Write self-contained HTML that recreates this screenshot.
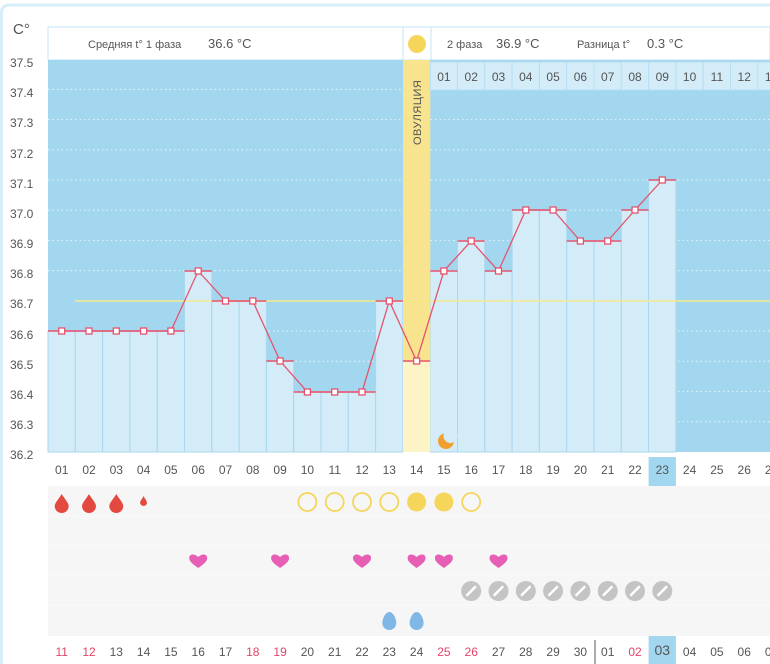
<!DOCTYPE html>
<html><head><meta charset="utf-8"><style>
html,body{margin:0;padding:0;background:#fff;width:770px;height:664px;overflow:hidden;}
svg{display:block;font-family:"Liberation Sans","DejaVu Sans",sans-serif;}
</style></head><body>
<svg width="770" height="664" viewBox="0 0 770 664" xmlns="http://www.w3.org/2000/svg">
<defs>
<path id="drop" d="M0,-9 C3,-4 7,0 7,3 A7,7 0 0 1 -7,3 C-7,0 -3,-4 0,-9Z"/>
<path id="heart" d="M0,7 C-4,4 -9,1 -9,-3 C-9,-7 -4,-8 0,-4 C4,-8 9,-7 9,-3 C9,1 4,4 0,7Z"/>
<g id="pill"><circle r="10" fill="#c4c4c4"/><line x1="-4" y1="4" x2="4" y2="-4" stroke="#fff" stroke-width="2.5" stroke-linecap="round"/></g>
<path id="bdrop" d="M0,-9 C4,-9 7,-2 7,2 A7,7 0 0 1 -7,2 C-7,-2 -4,-9 0,-9Z"/>
</defs>
<path d="M1.5,664 L1.5,13 Q1.5,5 9.5,5 L770,5" fill="none" stroke="#d7edf8" stroke-width="3"/>
<text x="13" y="34" font-size="15" fill="#555">C°</text>
<!-- header -->
<rect x="48" y="27" width="722" height="33" fill="#fff" stroke="#c6e6f5"/>
<line x1="403" y1="27" x2="403" y2="60" stroke="#c6e6f5"/>
<line x1="431" y1="27" x2="431" y2="60" stroke="#c6e6f5"/>
<text x="88" y="48" font-size="11" fill="#555">Средняя t° 1 фаза</text>
<text x="208" y="48" font-size="13" fill="#555">36.6 °C</text>
<circle cx="417" cy="44" r="9" fill="#f5d55a"/>
<text x="447" y="48" font-size="11" fill="#555">2 фаза</text>
<text x="496" y="48" font-size="13" fill="#555">36.9 °C</text>
<text x="577" y="48" font-size="11" fill="#555">Разница t°</text>
<text x="647" y="48" font-size="13" fill="#555">0.3 °C</text>
<!-- chart bg -->
<rect x="48" y="60" width="722" height="392" fill="#a3d7ef"/>
<!-- grid -->
<g stroke="#e6f4fb" stroke-width="1" stroke-dasharray="1.5 3">
<line x1="48" y1="89.4" x2="770" y2="89.4"/><line x1="48" y1="119.6" x2="770" y2="119.6"/><line x1="48" y1="149.8" x2="770" y2="149.8"/><line x1="48" y1="180" x2="770" y2="180"/><line x1="48" y1="210.2" x2="770" y2="210.2"/><line x1="48" y1="240.4" x2="770" y2="240.4"/><line x1="48" y1="270.6" x2="770" y2="270.6"/><line x1="48" y1="331" x2="770" y2="331"/><line x1="48" y1="361.2" x2="770" y2="361.2"/><line x1="48" y1="391.4" x2="770" y2="391.4"/><line x1="48" y1="421.6" x2="770" y2="421.6"/>
</g>
<!-- bars -->
<g fill="#d3ecf8" stroke="#a9d7ee" stroke-width="1">
<rect x="48" y="331" width="27.3" height="121"/>
<rect x="75.3" y="331" width="27.3" height="121"/>
<rect x="102.6" y="331" width="27.3" height="121"/>
<rect x="129.9" y="331" width="27.3" height="121"/>
<rect x="157.2" y="331" width="27.3" height="121"/>
<rect x="184.5" y="271" width="27.3" height="181"/>
<rect x="211.8" y="301" width="27.3" height="151"/>
<rect x="239.1" y="301" width="27.3" height="151"/>
<rect x="266.4" y="361" width="27.3" height="91"/>
<rect x="293.7" y="392" width="27.3" height="60"/>
<rect x="321" y="392" width="27.3" height="60"/>
<rect x="348.3" y="392" width="27.3" height="60"/>
<rect x="375.6" y="301" width="27.3" height="151"/>
<rect x="430.2" y="271" width="27.3" height="181"/>
<rect x="457.5" y="241" width="27.3" height="211"/>
<rect x="484.8" y="271" width="27.3" height="181"/>
<rect x="512.1" y="210" width="27.3" height="242"/>
<rect x="539.4" y="210" width="27.3" height="242"/>
<rect x="566.7" y="241" width="27.3" height="211"/>
<rect x="594" y="241" width="27.3" height="211"/>
<rect x="621.3" y="210" width="27.3" height="242"/>
<rect x="648.6" y="180" width="27.3" height="272"/>
</g>
<!-- ovulation -->
<rect x="403" y="60" width="27.3" height="301" fill="#f8e48e"/>
<rect x="403" y="361" width="27.3" height="91" fill="#fcf4c6"/>
<text transform="translate(421,145) rotate(-90)" font-size="11" fill="#555" letter-spacing="0.5">ОВУЛЯЦИЯ</text>
<!-- phase 2 label strip -->
<g fill="#d3ecf8" stroke="#b6dff2">
<rect x="430.2" y="62" width="27.3" height="28"/><rect x="457.5" y="62" width="27.3" height="28"/><rect x="484.8" y="62" width="27.3" height="28"/><rect x="512.1" y="62" width="27.3" height="28"/><rect x="539.4" y="62" width="27.3" height="28"/><rect x="566.7" y="62" width="27.3" height="28"/><rect x="594" y="62" width="27.3" height="28"/><rect x="621.3" y="62" width="27.3" height="28"/><rect x="648.6" y="62" width="27.3" height="28"/><rect x="675.9" y="62" width="27.3" height="28"/><rect x="703.2" y="62" width="27.3" height="28"/><rect x="730.5" y="62" width="27.3" height="28"/><rect x="757.8" y="62" width="27.3" height="28"/>
</g>
<g font-size="12" fill="#555" text-anchor="middle">
<text x="443.9" y="81">01</text><text x="471.2" y="81">02</text><text x="498.5" y="81">03</text><text x="525.8" y="81">04</text><text x="553.1" y="81">05</text><text x="580.4" y="81">06</text><text x="607.7" y="81">07</text><text x="635" y="81">08</text><text x="662.3" y="81">09</text><text x="689.6" y="81">10</text><text x="716.9" y="81">11</text><text x="744.2" y="81">12</text><text x="771.5" y="81">13</text>
</g>
<!-- mean line -->
<line x1="75" y1="301" x2="770" y2="301" stroke="#f3ea8a" stroke-width="1.5"/>
<!-- series -->
<g stroke="#e5546e" stroke-width="1.5">
<line x1="48" y1="331" x2="75.3" y2="331"/><line x1="75.3" y1="331" x2="102.6" y2="331"/><line x1="102.6" y1="331" x2="129.9" y2="331"/><line x1="129.9" y1="331" x2="157.2" y2="331"/><line x1="157.2" y1="331" x2="184.5" y2="331"/><line x1="184.5" y1="271" x2="211.8" y2="271"/><line x1="211.8" y1="301" x2="239.1" y2="301"/><line x1="239.1" y1="301" x2="266.4" y2="301"/><line x1="266.4" y1="361" x2="293.7" y2="361"/><line x1="293.7" y1="392" x2="375.6" y2="392"/><line x1="375.6" y1="301" x2="402.9" y2="301"/><line x1="402.9" y1="361" x2="430.2" y2="361"/><line x1="430.2" y1="271" x2="457.5" y2="271"/><line x1="457.5" y1="241" x2="484.8" y2="241"/><line x1="484.8" y1="271" x2="512.1" y2="271"/><line x1="512.1" y1="210" x2="566.7" y2="210"/><line x1="566.7" y1="241" x2="621.3" y2="241"/><line x1="621.3" y1="210" x2="648.6" y2="210"/><line x1="648.6" y1="180" x2="675.9" y2="180"/>
</g>
<polyline fill="none" stroke="#e5546e" stroke-width="1.3" points="61.7,331 89,331 116.3,331 143.6,331 170.9,331 198.2,271 225.5,301 252.8,301 280.1,361 307.4,392 334.7,392 362,392 389.3,301 416.6,361 443.9,271 471.2,241 498.5,271 525.8,210 553.1,210 580.4,241 607.7,241 635,210 662.3,180"/>
<g fill="#fff" stroke="#e5546e" stroke-width="1.3">
<rect x="58.7" y="328" width="6" height="6"/><rect x="86" y="328" width="6" height="6"/><rect x="113.3" y="328" width="6" height="6"/><rect x="140.6" y="328" width="6" height="6"/><rect x="167.9" y="328" width="6" height="6"/><rect x="195.2" y="268" width="6" height="6"/><rect x="222.5" y="298" width="6" height="6"/><rect x="249.8" y="298" width="6" height="6"/><rect x="277.1" y="358" width="6" height="6"/><rect x="304.4" y="389" width="6" height="6"/><rect x="331.7" y="389" width="6" height="6"/><rect x="359" y="389" width="6" height="6"/><rect x="386.3" y="298" width="6" height="6"/><rect x="413.6" y="358" width="6" height="6"/><rect x="440.9" y="268" width="6" height="6"/><rect x="468.2" y="238" width="6" height="6"/><rect x="495.5" y="268" width="6" height="6"/><rect x="522.8" y="207" width="6" height="6"/><rect x="550.1" y="207" width="6" height="6"/><rect x="577.4" y="238" width="6" height="6"/><rect x="604.7" y="238" width="6" height="6"/><rect x="632" y="207" width="6" height="6"/><rect x="659.3" y="177" width="6" height="6"/>
</g>
<!-- moon -->
<circle cx="446" cy="441" r="8" fill="#f0a030"/>
<circle cx="450.5" cy="436" r="7" fill="#d3ecf8"/>
<!-- y labels -->
<g font-size="12" fill="#555">
<text x="10" y="67">37.5</text><text x="10" y="97">37.4</text><text x="10" y="127">37.3</text><text x="10" y="158">37.2</text><text x="10" y="188">37.1</text><text x="10" y="218">37.0</text><text x="10" y="248">36.9</text><text x="10" y="278">36.8</text><text x="10" y="308">36.7</text><text x="10" y="339">36.6</text><text x="10" y="369">36.5</text><text x="10" y="399">36.4</text><text x="10" y="429">36.3</text><text x="10" y="459">36.2</text>
</g>
<!-- bottom area -->
<rect x="48" y="486" width="722" height="150" fill="#f6f6f6"/>
<g stroke="#fbfbfb" stroke-width="1">
<line x1="48" y1="516" x2="770" y2="516"/><line x1="48" y1="545" x2="770" y2="545"/><line x1="48" y1="575" x2="770" y2="575"/><line x1="48" y1="605" x2="770" y2="605"/>
</g>
<rect x="648.6" y="457" width="27.3" height="29" fill="#a3d7ef"/>
<rect x="648.6" y="636" width="27.3" height="28" fill="#a3d7ef"/>
<g font-size="12" fill="#555" text-anchor="middle">
<text x="61.7" y="474">01</text><text x="89" y="474">02</text><text x="116.3" y="474">03</text><text x="143.6" y="474">04</text><text x="170.9" y="474">05</text><text x="198.2" y="474">06</text><text x="225.5" y="474">07</text><text x="252.8" y="474">08</text><text x="280.1" y="474">09</text><text x="307.4" y="474">10</text><text x="334.7" y="474">11</text><text x="362" y="474">12</text><text x="389.3" y="474">13</text><text x="416.6" y="474">14</text><text x="443.9" y="474">15</text><text x="471.2" y="474">16</text><text x="498.5" y="474">17</text><text x="525.8" y="474">18</text><text x="553.1" y="474">19</text><text x="580.4" y="474">20</text><text x="607.7" y="474">21</text><text x="635" y="474">22</text><text x="662.3" y="474">23</text><text x="689.6" y="474">24</text><text x="716.9" y="474">25</text><text x="744.2" y="474">26</text><text x="771.5" y="474">27</text>
</g>
<g font-size="12" fill="#555" text-anchor="middle">
<text x="61.7" y="656" fill="#e0456a">11</text><text x="89" y="656" fill="#e0456a">12</text><text x="116.3" y="656">13</text><text x="143.6" y="656">14</text><text x="170.9" y="656">15</text><text x="198.2" y="656">16</text><text x="225.5" y="656">17</text><text x="252.8" y="656" fill="#e0456a">18</text><text x="280.1" y="656" fill="#e0456a">19</text><text x="307.4" y="656">20</text><text x="334.7" y="656">21</text><text x="362" y="656">22</text><text x="389.3" y="656">23</text><text x="416.6" y="656">24</text><text x="443.9" y="656" fill="#e0456a">25</text><text x="471.2" y="656" fill="#e0456a">26</text><text x="498.5" y="656">27</text><text x="525.8" y="656">28</text><text x="553.1" y="656">29</text><text x="580.4" y="656">30</text><text x="607.7" y="656">01</text><text x="635" y="656" fill="#e0456a">02</text><text x="662.3" y="655" font-size="14">03</text><text x="689.6" y="656">04</text><text x="716.9" y="656">05</text><text x="744.2" y="656">06</text><text x="771.5" y="656">07</text>
</g>
<line x1="595" y1="640" x2="595" y2="664" stroke="#555" stroke-width="1"/>
<!-- icons -->
<g fill="#e4493f">
<use href="#drop" x="61.7" y="503"/><use href="#drop" x="89" y="503"/><use href="#drop" x="116.3" y="503"/>
<path d="M143.6,496 C145,499 147,501 147,503 A3.5,3.5 0 0 1 140.1,503 C140.1,501 142,499 143.6,496Z"/>
</g>
<g fill="none" stroke="#f5d55a" stroke-width="1.8">
<circle cx="307.4" cy="502" r="9"/><circle cx="334.7" cy="502" r="9"/><circle cx="362" cy="502" r="9"/><circle cx="389.3" cy="502" r="9"/><circle cx="471.2" cy="502" r="9"/>
</g>
<circle cx="416.6" cy="502" r="9.5" fill="#f5d55a"/><circle cx="443.9" cy="502" r="9.5" fill="#f5d55a"/>
<g fill="#e65fb5">
<use href="#heart" x="198.2" y="561"/><use href="#heart" x="280.1" y="561"/><use href="#heart" x="362" y="561"/><use href="#heart" x="416.6" y="561"/><use href="#heart" x="443.9" y="561"/><use href="#heart" x="498.5" y="561"/>
</g>
<use href="#pill" x="471.2" y="591"/><use href="#pill" x="498.5" y="591"/><use href="#pill" x="525.8" y="591"/><use href="#pill" x="553.1" y="591"/><use href="#pill" x="580.4" y="591"/><use href="#pill" x="607.7" y="591"/><use href="#pill" x="635" y="591"/><use href="#pill" x="662.3" y="591"/>
<g fill="#7fb8e6"><use href="#bdrop" x="389.3" y="621"/><use href="#bdrop" x="416.6" y="621"/></g>
</svg>
</body></html>
